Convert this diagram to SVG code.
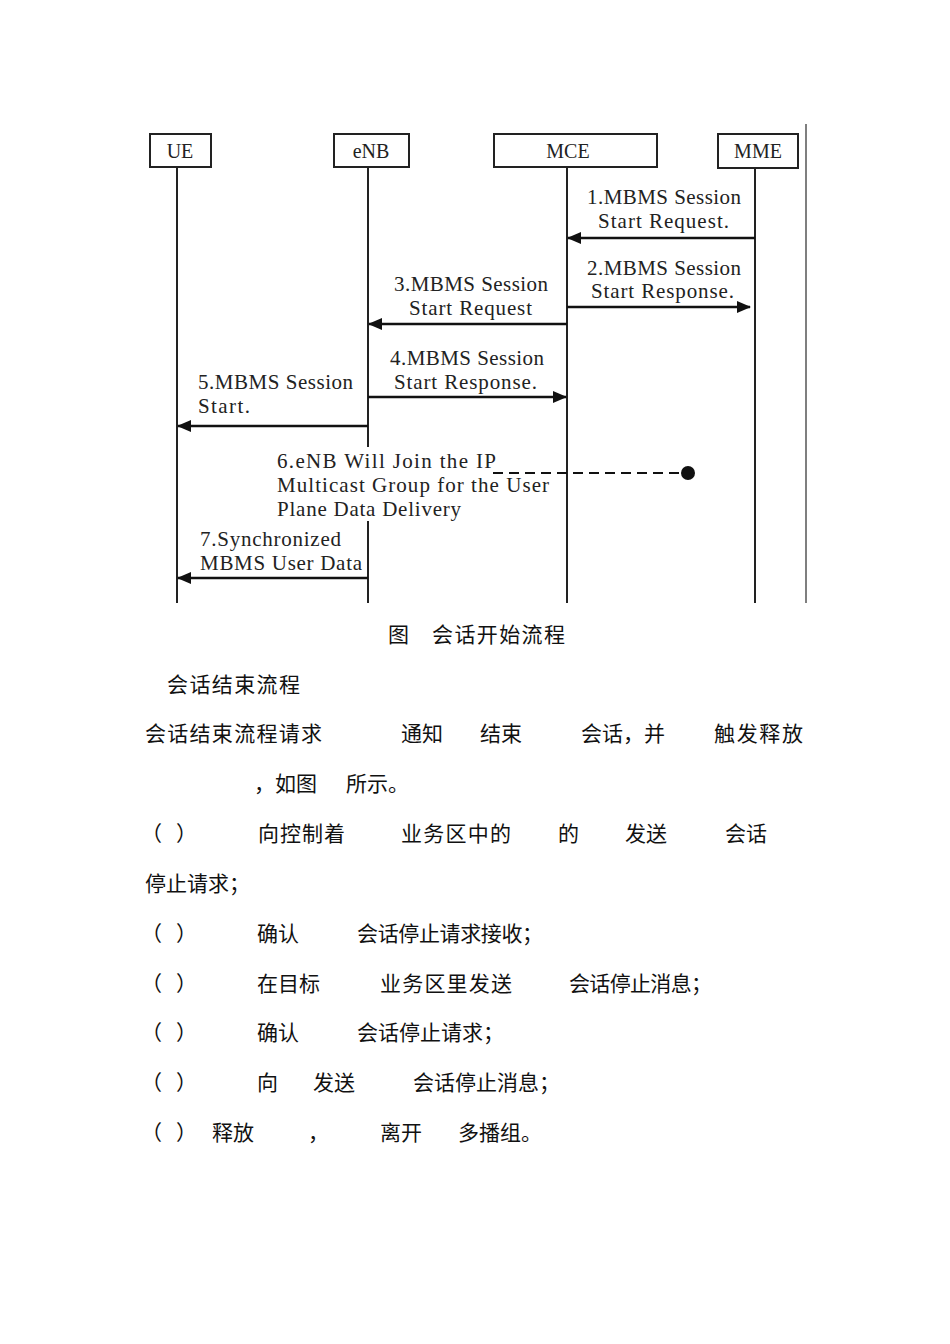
<svg xmlns="http://www.w3.org/2000/svg" width="950" height="1344" viewBox="0 0 950 1344">
<style>
.box{fill:#fff;stroke:#222;stroke-width:2}
.life{stroke:#222;stroke-width:2;fill:none}
.msg{stroke:#111;stroke-width:2.6;fill:none}
.lbl{font-family:"Liberation Serif","Times New Roman",serif;font-size:21px;fill:#222}
.nm{font-family:"Liberation Serif","Times New Roman",serif;font-size:20px;fill:#222;text-anchor:middle}
.cn{font-family:"Liberation Serif","Noto Sans CJK SC",sans-serif;font-size:21px;fill:#111}
</style>
<defs>
<marker id="ah" markerWidth="14" markerHeight="12" refX="13" refY="6" orient="auto" markerUnits="userSpaceOnUse">
<path d="M0,0 L14,6 L0,12 Z" fill="#111"/>
</marker>
</defs>
<rect width="950" height="1344" fill="#fff"/>
<line x1="806" y1="124" x2="806" y2="603" stroke="#555" stroke-width="1.5"/>

<g id="UE">
<rect class="box" x="150" y="134" width="61" height="33"/>
<text class="nm" x="180" y="158">UE</text>
<line class="life" x1="177" y1="167" x2="177" y2="603"/>
</g>
<g id="eNB">
<rect class="box" x="334" y="134" width="75" height="33"/>
<text class="nm" x="371" y="158">eNB</text>
<line class="life" x1="368" y1="167" x2="368" y2="447"/>
<line class="life" x1="368" y1="521" x2="368" y2="603"/>
</g>
<g id="MCE">
<rect class="box" x="494" y="134" width="163" height="33"/>
<text class="nm" x="568" y="158">MCE</text>
<line class="life" x1="567" y1="167" x2="567" y2="603"/>
</g>
<g id="MME">
<rect class="box" x="718" y="134" width="80" height="34"/>
<text class="nm" x="758" y="158">MME</text>
<line class="life" x1="755" y1="168" x2="755" y2="603"/>
</g>

<g id="connectors">
<line class="msg" x1="755" y1="238" x2="568" y2="238" marker-end="url(#ah)"/>
<line class="msg" x1="567" y1="307" x2="750" y2="307" marker-end="url(#ah)"/>
<line class="msg" x1="567" y1="324" x2="369" y2="324" marker-end="url(#ah)"/>
<line class="msg" x1="368" y1="397" x2="566" y2="397" marker-end="url(#ah)"/>
<line class="msg" x1="368" y1="426" x2="178" y2="426" marker-end="url(#ah)"/>
<line x1="493" y1="473" x2="688" y2="473" stroke="#111" stroke-width="2.2" stroke-dasharray="10,6"/>
<circle cx="688" cy="473" r="7" fill="#111"/>
<line class="msg" x1="368" y1="578" x2="178" y2="578" marker-end="url(#ah)"/>
</g>

<g id="labels">
<text class="lbl" x="587" y="204" textLength="154" lengthAdjust="spacing">1.MBMS Session</text>
<text class="lbl" x="598" y="228" textLength="131" lengthAdjust="spacing">Start Request.</text>
<text class="lbl" x="587" y="275" textLength="154" lengthAdjust="spacing">2.MBMS Session</text>
<text class="lbl" x="591" y="298" textLength="143" lengthAdjust="spacing">Start Response.</text>
<text class="lbl" x="394" y="291" textLength="154" lengthAdjust="spacing">3.MBMS Session</text>
<text class="lbl" x="409" y="315" textLength="123" lengthAdjust="spacing">Start Request</text>
<text class="lbl" x="390" y="365" textLength="154" lengthAdjust="spacing">4.MBMS Session</text>
<text class="lbl" x="394" y="389" textLength="143" lengthAdjust="spacing">Start Response.</text>
<text class="lbl" x="198" y="389" textLength="155" lengthAdjust="spacing">5.MBMS Session</text>
<text class="lbl" x="198" y="413" textLength="52" lengthAdjust="spacing">Start.</text>
<text class="lbl" x="277" y="468" textLength="219" lengthAdjust="spacing">6.eNB Will Join the IP</text>
<text class="lbl" x="277" y="492" textLength="272" lengthAdjust="spacing">Multicast Group for the User</text>
<text class="lbl" x="277" y="516" textLength="184" lengthAdjust="spacing">Plane Data Delivery</text>
<text class="lbl" x="200" y="546" textLength="141" lengthAdjust="spacing">7.Synchronized</text>
<text class="lbl" x="200" y="570" textLength="162" lengthAdjust="spacing">MBMS User Data</text>
</g>

<g id="body-text">
<text class="cn" x="388" y="642">图</text>
<text class="cn" x="432" y="642" textLength="133" lengthAdjust="spacing">会话开始流程</text>
<text class="cn" x="167" y="692" textLength="133" lengthAdjust="spacing">会话结束流程</text>
<text class="cn" x="145" y="741" textLength="177" lengthAdjust="spacing">会话结束流程请求</text>
<text class="cn" x="401" y="741">通知</text>
<text class="cn" x="480" y="741">结束</text>
<text class="cn" x="581" y="741">会话，并</text>
<text class="cn" x="714" y="741" textLength="89" lengthAdjust="spacing">触发释放</text>
<text class="cn" x="254" y="791">，如图</text>
<text class="cn" x="346" y="791">所示。</text>

<text class="cn" x="141" y="841">（</text><text class="cn" x="176" y="841">）</text>
<text class="cn" x="258" y="841" textLength="87" lengthAdjust="spacing">向控制着</text>
<text class="cn" x="401" y="841" textLength="110" lengthAdjust="spacing">业务区中的</text>
<text class="cn" x="558" y="841">的</text>
<text class="cn" x="625" y="841">发送</text>
<text class="cn" x="725" y="841">会话</text>
<text class="cn" x="145" y="891">停止请求；</text>

<text class="cn" x="141" y="941">（</text><text class="cn" x="176" y="941">）</text>
<text class="cn" x="257" y="941">确认</text>
<text class="cn" x="357" y="941" textLength="186" lengthAdjust="spacing">会话停止请求接收；</text>

<text class="cn" x="141" y="991">（</text><text class="cn" x="176" y="991">）</text>
<text class="cn" x="257" y="991">在目标</text>
<text class="cn" x="380" y="991" textLength="132" lengthAdjust="spacing">业务区里发送</text>
<text class="cn" x="569" y="991" textLength="143" lengthAdjust="spacing">会话停止消息；</text>

<text class="cn" x="141" y="1040">（</text><text class="cn" x="176" y="1040">）</text>
<text class="cn" x="257" y="1040">确认</text>
<text class="cn" x="357" y="1040">会话停止请求；</text>

<text class="cn" x="141" y="1090">（</text><text class="cn" x="176" y="1090">）</text>
<text class="cn" x="257" y="1090">向</text>
<text class="cn" x="313" y="1090">发送</text>
<text class="cn" x="413" y="1090">会话停止消息；</text>

<text class="cn" x="141" y="1140">（</text><text class="cn" x="176" y="1140">）</text>
<text class="cn" x="212" y="1140">释放</text>
<text class="cn" x="308" y="1140">，</text>
<text class="cn" x="380" y="1140">离开</text>
<text class="cn" x="458" y="1140">多播组。</text>
</g>
</svg>
